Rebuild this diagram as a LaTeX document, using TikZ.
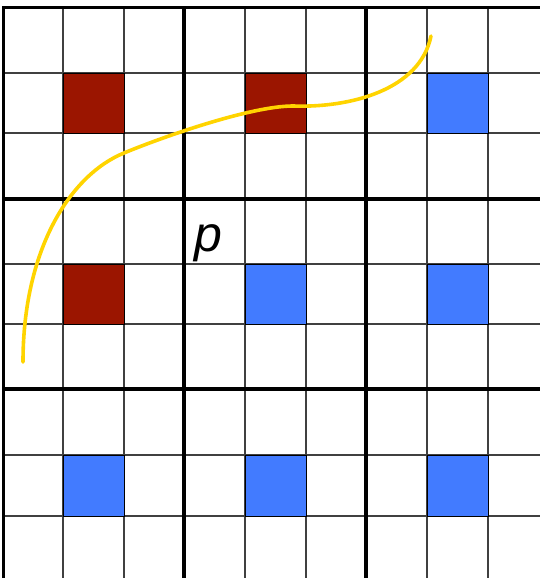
\documentclass[tikz,border=0pt]{standalone}
\usepackage{fontspec}
\setmainfont{Liberation Sans}
\begin{document}
\begin{tikzpicture}[x=1pt,y=-1pt,
  thinline/.style={line width=1.3pt,draw=black!75},
  thickline/.style={line width=3.5pt,draw=black},
  redcell/.style={fill=darkred,draw=black,line width=1pt},
  bluecell/.style={fill=cellblue,draw=black,line width=1pt},
  curve/.style={draw=curveyellow,line width=3.6pt,line cap=round}]
\definecolor{darkred}{HTML}{9B1500}
\definecolor{cellblue}{HTML}{427BFF}
\definecolor{curveyellow}{HTML}{FFD400}
\useasboundingbox (0,0) rectangle (540,578);
\fill[white] (0,0) rectangle (540,578);
\clip (0,0) rectangle (540,578);
% thin grid
\foreach \x in {63,124,245,306,427,488} \draw[thinline] (\x,8) -- (\x,590);
\foreach \y in {73,133,264,324,455,516} \draw[thinline] (3,\y) -- (560,\y);
% cells
\foreach \cx/\cy/\st in {63/73/redcell,245/73/redcell,427/73/bluecell,
  63/264/redcell,245/264/bluecell,427/264/bluecell}
  \path[\st] (\cx,\cy) rectangle ++(61,60);
\foreach \cx/\cy/\st in {63/455/bluecell,245/455/bluecell,427/455/bluecell}
  \path[\st] (\cx,\cy) rectangle ++(61,61);
% thick grid
\foreach \x in {184,366,548} \draw[thickline] (\x,8) -- (\x,590);
\foreach \y in {199,389} \draw[thickline] (3,\y) -- (560,\y);
\draw[line width=3pt] (3,590) -- (3,8) -- (560,8);
% label
\node[font=\fontsize{50}{52}\selectfont\itshape, anchor=base, inner sep=0pt] (p) at (208,251) {p};
% curve
\coordinate (c0) at (23,362);
\coordinate (c1) at (124,153);
\coordinate (c2) at (293,106);
\coordinate (c3) at (431,36);
\draw[curve] (c0) .. controls (23,250) and (70,175) .. (c1)
  .. controls (160,138) and (250,106) .. (c2)
  .. controls (350,108) and (420,90) .. (c3);
\end{tikzpicture}
\end{document}
